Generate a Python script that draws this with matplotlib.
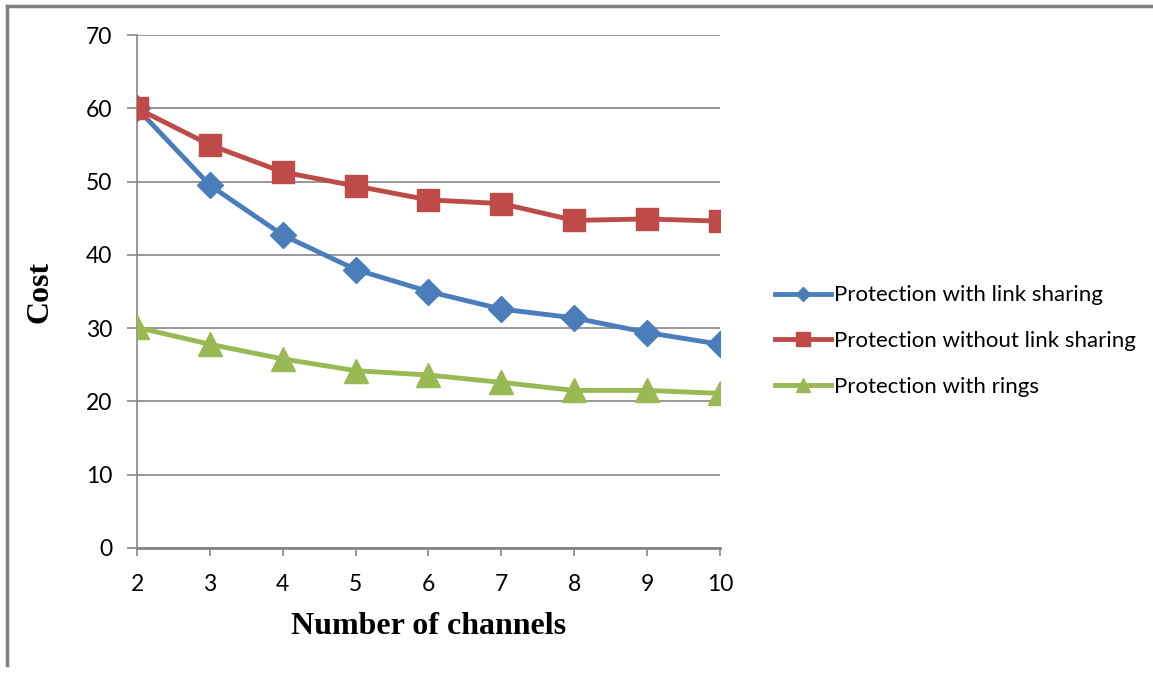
import matplotlib.pyplot as plt
from matplotlib.lines import Line2D

channels = [2, 3, 4, 5, 6, 7, 8, 9, 10]
with_sharing = [60.0, 49.5, 42.7, 38.0, 35.0, 32.6, 31.4, 29.4, 27.8]
without_sharing = [60.0, 55.0, 51.3, 49.4, 47.5, 47.0, 44.7, 44.9, 44.6]
with_rings = [30.1, 27.8, 25.8, 24.2, 23.6, 22.6, 21.5, 21.5, 21.1]

labels = ['Protection with link sharing',
          'Protection without link sharing',
          'Protection with rings']

blue = '#4A7EBB'
red = '#BE4B48'
green = '#98B954'
grid_col = '#868686'

fig = plt.figure(figsize=(11.53, 6.75), dpi=100)
ax = fig.add_axes([137/1153, 1-548/675, (720-137)/1153, (548-35)/675])

ax.plot(channels, with_sharing, color=blue, lw=3.5, marker='D', ms=13, label=labels[0], zorder=3)
ax.plot(channels, without_sharing, color=red, lw=3.5, marker='s', ms=16.5, label=labels[1], zorder=4)
ax.plot(channels, with_rings, color=green, lw=3.5, marker='^', ms=17, label=labels[2], zorder=3)

ax.set_xlim(2, 10)
ax.set_ylim(0, 70)
ax.set_xticks(channels)
ax.set_yticks(range(0, 71, 10))
ax.grid(axis='y', color=grid_col, lw=1.2)
ax.set_axisbelow(True)

for s in ['top', 'right']:
    ax.spines[s].set_visible(False)
ax.spines['left'].set_color(grid_col)
ax.spines['left'].set_linewidth(1.2)
ax.spines['bottom'].set_color(grid_col)
ax.spines['bottom'].set_linewidth(2)

ax.tick_params(axis='y', length=7, color=grid_col, width=1.2, pad=11,
               labelsize=16.5, labelfontfamily='Lato')
ax.tick_params(axis='x', length=6, color=grid_col, width=1.2, pad=13,
               labelsize=16.5, labelfontfamily='Lato')

ax.set_xlabel('Number of channels', family='Liberation Serif', weight='bold',
              fontsize=23, labelpad=12)
ax.set_ylabel('Cost', family='Liberation Serif', weight='bold', fontsize=23,
              labelpad=22)

handles = [
    Line2D([], [], color=blue, lw=3.5, marker='D', ms=7),
    Line2D([], [], color=red, lw=3.5, marker='s', ms=10),
    Line2D([], [], color=green, lw=3.5, marker='^', ms=10),
]
fig.legend(handles, labels, loc='center left', bbox_to_anchor=(755/1153, 1-341/675),
           frameon=False, prop={'family': 'Lato', 'size': 16},
           handlelength=2.5, handletextpad=0.15, labelspacing=1.15)

# outer frame along top and left edge
fig.add_artist(Line2D([7/1153, 7/1153], [1-665/675, 1-6/675], transform=fig.transFigure,
                      color='#808080', lw=2.5))
fig.add_artist(Line2D([7/1153, 1], [1-6/675, 1-6/675], transform=fig.transFigure,
                      color='#808080', lw=2.5))

fig.savefig('out.png', dpi=100)
